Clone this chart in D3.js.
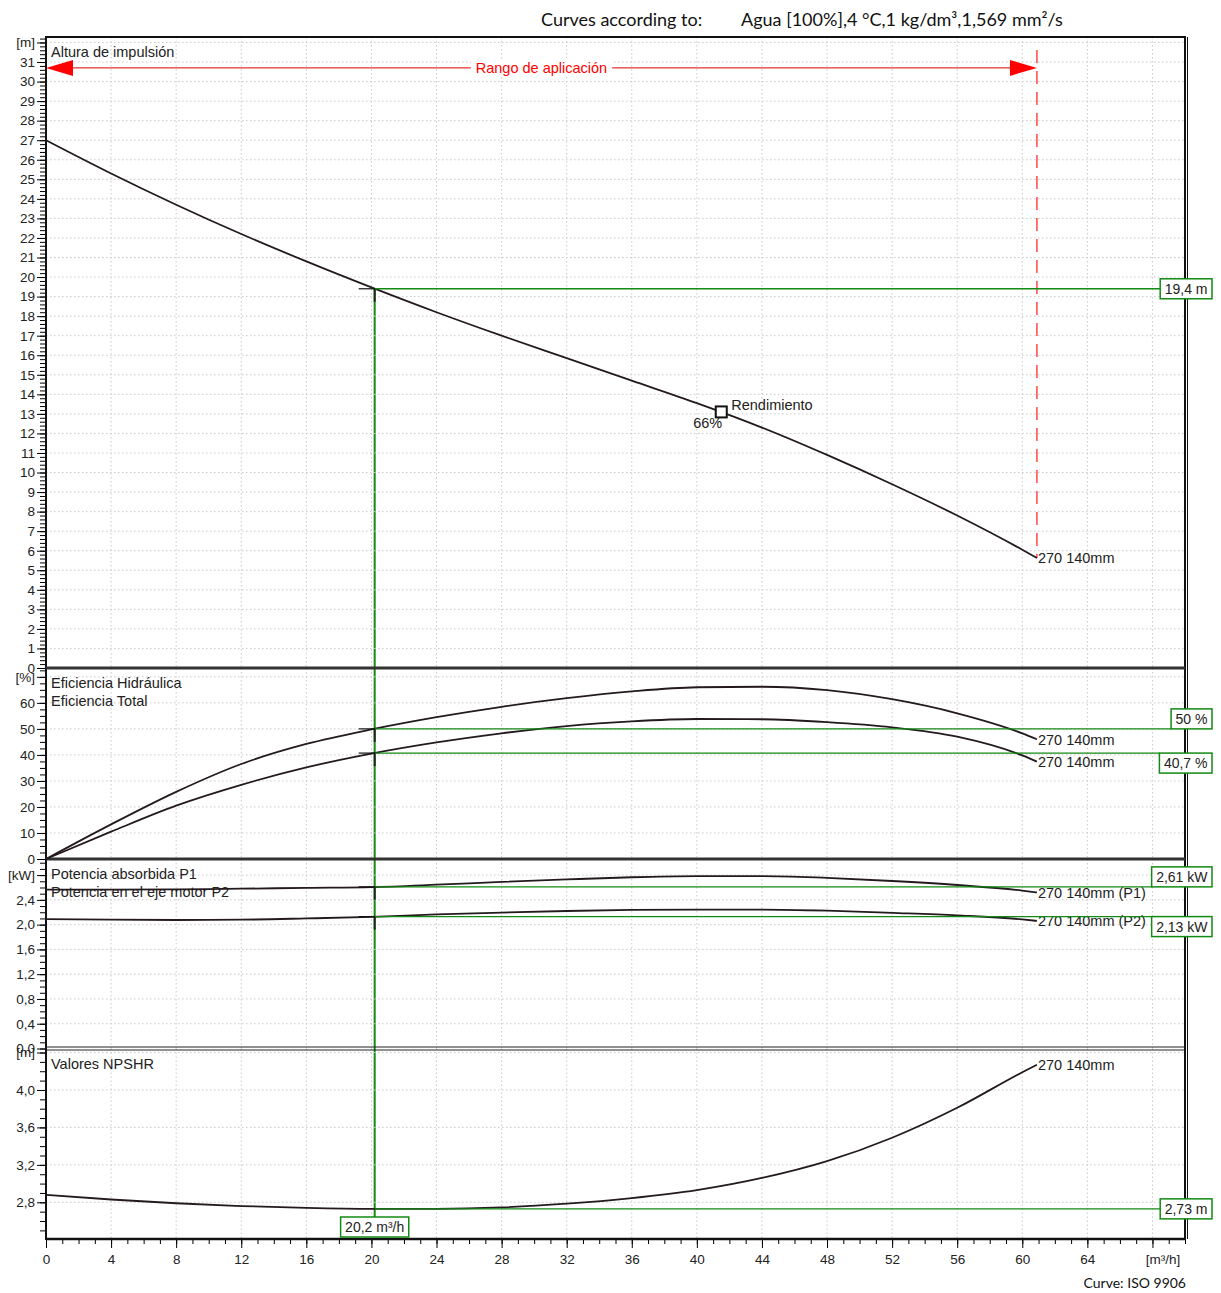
<!DOCTYPE html>
<html>
<head>
<meta charset="utf-8">
<script src="https://cdn.jsdelivr.net/npm/d3@7"></script>
<style>
  body { margin: 0; background: #fff; }
  svg { display: block; font-family: "Liberation Sans", Arial, sans-serif; }
</style>
</head>
<body>
<script>
const flowQ = [0, 4, 8, 12, 16, 20, 24, 28, 32, 36, 40, 44, 48, 52, 56, 60, 60.9];
const headH = [27.0, 25.3, 23.7, 22.2, 20.8, 19.47, 18.2, 17.0, 15.85, 14.7, 13.55, 12.3, 10.9, 9.4, 7.8, 6.05, 5.63];
const effHydraulic = [0, 13.3, 25.8, 36.5, 44.2, 49.8, 54.5, 58.5, 61.8, 64.4, 66.0, 66.2, 64.9, 61.4, 56.0, 48.3, 46];
const effTotal = [0, 10.5, 20.5, 28.5, 35.2, 40.5, 44.8, 48.3, 51.1, 52.9, 53.8, 53.7, 52.6, 50.6, 47.0, 39.8, 37.4];
const powerP1 = [2.565, 2.565, 2.57, 2.58, 2.595, 2.607, 2.645, 2.69, 2.73, 2.765, 2.783, 2.785, 2.755, 2.705, 2.64, 2.55, 2.52];
const powerP2 = [2.09, 2.08, 2.075, 2.08, 2.10, 2.125, 2.165, 2.195, 2.22, 2.237, 2.244, 2.244, 2.226, 2.19, 2.149, 2.085, 2.06];
const npshr = [2.88, 2.83, 2.79, 2.76, 2.74, 2.73, 2.73, 2.745, 2.785, 2.845, 2.93, 3.06, 3.24, 3.49, 3.81, 4.19, 4.27];

// duty point
const dutyQ = 20.2;
const dutyHead = 19.4;
const dutyEffHyd = 50;
const dutyEffTot = 40.7;
const dutyP1 = 2.61;
const dutyP2 = 2.13;
const dutyNpsh = 2.73;

// application range + best efficiency point
const rangeQ = [0, 60.9];
const rangeH = 30.7;
const bepQ = 41.5;
const bepH = 13.1;
const bepLabel = "66%";

const curveName = "270 140mm";

const W = 1221, H = 1293;
const left = 46, right = 1185;
const green = "#138a13";
const ink = "#241a1d";
const fs = 14.5;

const comma = (f) => (d) => d3.format(f)(d).replace(".", ",");
const range = (a, b, s) => d3.range(Math.round((b - a) / s) + 1).map((i) => +(a + i * s).toFixed(3));

const x = d3.scaleLinear().domain([0, 70]).range([left, right]);

const svg = d3.select("body").append("svg").attr("width", W).attr("height", H);

// panels, top to bottom
const panels = [
  { top: 37, bottom: 668, domain: [0, 32.28], majors: range(0, 32, 1), minors: range(0, 32.2, 0.2), fmt: d3.format("d"), unit: "[m]", titles: ["Altura de impulsión"] },
  { top: 668, bottom: 859, domain: [0, 73.4], majors: range(0, 70, 10), minors: range(0, 72.5, 2.5), fmt: d3.format("d"), unit: "[%]", titles: ["Eficiencia Hidráulica", "Eficiencia Total"] },
  { top: 859, bottom: 1048.5, domain: [0, 3.06], majors: range(0, 2.8, 0.4), minors: range(0, 3.0, 0.1), fmt: comma(".1f"), unit: "[kW]", titles: ["Potencia absorbida P1", "Potencia en el eje motor P2"] },
  { top: 1048.5, bottom: 1239, domain: [2.408, 4.443], majors: range(2.8, 4.4, 0.4), minors: range(2.5, 4.4, 0.1), fmt: comma(".1f"), unit: "[m]", titles: ["Valores NPSHR"] },
];
panels.forEach((p) => (p.y = d3.scaleLinear().domain(p.domain).range([p.bottom, p.top])));
const [pHead, pEff, pPow, pNpsh] = panels;

// grid
const grid = svg.append("g").attr("stroke", "#c9c9c9").attr("stroke-dasharray", "1.5,2.5");
panels.forEach((p) => {
  grid.append("g").selectAll("line").data(p.majors.filter((d) => d > p.domain[0])).join("line")
    .attr("x1", left).attr("x2", right).attr("y1", p.y).attr("y2", p.y);
  grid.append("g").selectAll("line").data(range(4, 68, 4)).join("line")
    .attr("x1", x).attr("x2", x).attr("y1", p.top).attr("y2", p.bottom);
});

// y axes
panels.forEach((p) => {
  svg.append("g").attr("transform", `translate(${left},0)`)
    .call(d3.axisLeft(p.y).tickValues(p.minors).tickSize(6).tickFormat(""))
    .call((g) => g.select(".domain").remove());
  svg.append("g").attr("transform", `translate(${left},0)`)
    .call(d3.axisLeft(p.y).tickValues(p.majors).tickSize(9).tickPadding(2)
      .tickFormat((d, i) => (i === p.majors.length - 1 ? p.unit : p.fmt(d))))
    .call((g) => g.select(".domain").remove())
    .call((g) => g.selectAll("text").attr("font-size", 13.5).attr("fill", "#222").attr("font-family", "Liberation Sans, Arial, sans-serif"));
  p.titles.forEach((t, i) => {
    svg.append("text").attr("x", left + 5).attr("y", p.top + 20 + i * 18)
      .attr("font-size", fs).attr("fill", "#222").text(t);
  });
});

// x axis
svg.append("g").attr("transform", `translate(0,${pNpsh.bottom})`)
  .call(d3.axisBottom(x).tickValues(range(0, 70, 1)).tickSize(5).tickFormat(""))
  .call((g) => g.select(".domain").remove());
svg.append("g").attr("transform", `translate(0,${pNpsh.bottom})`)
  .call(d3.axisBottom(x).tickValues(range(0, 68, 4)).tickSize(9).tickPadding(6)
    .tickFormat((d) => (d === 68 ? "[m³/h]" : d)))
  .call((g) => g.select(".domain").remove())
  .call((g) => g.selectAll("text").attr("font-size", 13.5).attr("fill", "#222").attr("font-family", "Liberation Sans, Arial, sans-serif"))
  .call((g) => g.selectAll(".tick").filter((d) => d === 68).select("text").attr("dx", 10));

// frame
const frame = svg.append("g").attr("fill", "none");
frame.append("rect").attr("x", left).attr("y", pHead.top).attr("width", right - left).attr("height", pNpsh.bottom - pHead.top)
  .attr("stroke", "#111").attr("stroke-width", 2);
frame.append("line").attr("x1", right + 2.5).attr("x2", right + 2.5).attr("y1", pHead.top).attr("y2", pNpsh.bottom)
  .attr("stroke", "#111").attr("stroke-width", 1);
[pEff.top, pPow.top].forEach((yy) =>
  frame.append("line").attr("x1", left).attr("x2", right).attr("y1", yy).attr("y2", yy).attr("stroke", "#333").attr("stroke-width", 3));
[pNpsh.top - 1.5, pNpsh.top + 1.5].forEach((yy) =>
  frame.append("line").attr("x1", left).attr("x2", right).attr("y1", yy).attr("y2", yy).attr("stroke", "#222").attr("stroke-width", 1.2));
frame.append("line").attr("x1", left).attr("x2", right).attr("y1", pNpsh.bottom).attr("y2", pNpsh.bottom).attr("stroke", "#111").attr("stroke-width", 2.5);

// application range (red)
const yR = pHead.y(rangeH);
const xR0 = x(rangeQ[0]), xR1 = x(rangeQ[1]);
const red = svg.append("g");
red.append("line").attr("x1", xR1).attr("x2", xR1).attr("y1", pHead.top + 13).attr("y2", pHead.y(headH[headH.length - 1]))
  .attr("stroke", "#ff1a1a").attr("stroke-width", 1.2).attr("stroke-dasharray", "13,8");
red.append("line").attr("x1", xR0 + 20).attr("x2", xR1 - 20).attr("y1", yR).attr("y2", yR).attr("stroke", "#e00000").attr("stroke-width", 1);
red.append("path").attr("fill", "#ff0000").attr("d", `M${xR0},${yR}L${xR0 + 27},${yR - 8}L${xR0 + 27},${yR + 8}Z`);
red.append("path").attr("fill", "#ff0000").attr("d", `M${xR1},${yR}L${xR1 - 27},${yR - 8}L${xR1 - 27},${yR + 8}Z`);
const rText = red.append("text").attr("x", (xR0 + xR1) / 2).attr("y", yR).attr("dy", "0.35em")
  .attr("text-anchor", "middle").attr("font-size", fs).attr("fill", "#ff0000").text("Rango de aplicación");
const rb = rText.node().getBBox();
red.insert("rect", "text").attr("x", rb.x - 5).attr("y", rb.y).attr("width", rb.width + 10).attr("height", rb.height).attr("fill", "#fff");

// curves
const series = [
  { p: pHead, values: headH, label: curveName },
  { p: pEff, values: effHydraulic, label: curveName },
  { p: pEff, values: effTotal, label: curveName },
  { p: pPow, values: powerP1, label: curveName + " (P1)" },
  { p: pPow, values: powerP2, label: curveName + " (P2)" },
  { p: pNpsh, values: npshr, label: curveName },
];
series.forEach((s) => {
  const line = d3.line().x((d, i) => x(flowQ[i])).y((d) => s.p.y(d)).curve(d3.curveMonotoneX);
  svg.append("path").attr("d", line(s.values)).attr("fill", "none").attr("stroke", ink).attr("stroke-width", 1.8);
  const last = s.values.length - 1;
  svg.append("text").attr("x", x(flowQ[last]) + 1).attr("y", s.p.y(s.values[last])).attr("dy", "0.38em")
    .attr("font-size", fs).attr("fill", "#222").text(s.label);
});

// best efficiency point
svg.append("rect").attr("x", x(bepQ) - 5.5).attr("y", pHead.y(bepH) - 5.5).attr("width", 11).attr("height", 11)
  .attr("fill", "#fff").attr("stroke", "#111").attr("stroke-width", 2);
svg.append("text").attr("x", x(bepQ) + 10).attr("y", pHead.y(bepH) - 7).attr("dy", "0.35em")
  .attr("font-size", fs).attr("fill", "#222").text("Rendimiento");
svg.append("text").attr("x", x(bepQ) + 1).attr("y", pHead.y(bepH) + 11).attr("dy", "0.35em").attr("text-anchor", "end")
  .attr("font-size", fs).attr("fill", "#222").text(bepLabel);

// duty point lines and value boxes
const xd = x(dutyQ);
const boxRight = 1212;
const duty = [
  { p: pHead, v: dutyHead, text: comma(".1f")(dutyHead) + " m", place: "mid" },
  { p: pEff, v: dutyEffHyd, text: dutyEffHyd + " %", place: "above" },
  { p: pEff, v: dutyEffTot, text: comma(".1f")(dutyEffTot) + " %", place: "below" },
  { p: pPow, v: dutyP1, text: comma(".2f")(dutyP1) + " kW", place: "above" },
  { p: pPow, v: dutyP2, text: comma(".2f")(dutyP2) + " kW", place: "below" },
  { p: pNpsh, v: dutyNpsh, text: comma(".2f")(dutyNpsh) + " m", place: "mid" },
];
const xBox = svg.append("g");
const xBoxText = xBox.append("text").attr("x", xd).attr("y", 1227).attr("dy", "0.35em").attr("text-anchor", "middle")
  .attr("font-size", 14).attr("fill", "#222").text(comma(".1f")(dutyQ) + " m³/h");
const xbw = xBoxText.node().getComputedTextLength() + 9;
xBox.insert("rect", "text").attr("x", xd - xbw / 2).attr("y", 1217).attr("width", xbw).attr("height", 20)
  .attr("fill", "#fff").attr("stroke", green).attr("stroke-width", 1.5);

svg.insert("line", "g").attr("x1", xd).attr("x2", xd).attr("y1", pHead.y(dutyHead)).attr("y2", 1217)
  .attr("stroke", green).attr("stroke-width", 2);

duty.forEach((d) => {
  const yy = d.p.y(d.v);
  const g = svg.append("g");
  const t = g.append("text").attr("font-size", 14).attr("fill", "#222").text(d.text);
  const w = t.node().getComputedTextLength() + 9;
  const by = d.place === "mid" ? yy - 10 : d.place === "above" ? yy - 20 : yy;
  t.attr("x", boxRight - w + 4.5).attr("y", by + 10).attr("dy", "0.36em");
  g.insert("line", "text").attr("x1", xd).attr("x2", boxRight - w).attr("y1", yy).attr("y2", yy)
    .attr("stroke", green).attr("stroke-width", 1.3);
  g.insert("rect", "text").attr("x", boxRight - w).attr("y", by).attr("width", w).attr("height", 20)
    .attr("fill", "#fff").attr("stroke", green).attr("stroke-width", 1.5);
  if (d.p !== pNpsh) {
    g.append("line").attr("x1", xd - 16).attr("x2", xd).attr("y1", yy).attr("y2", yy).attr("stroke", "#111").attr("stroke-width", 1.2);
    g.append("line").attr("x1", xd).attr("x2", xd).attr("y1", yy).attr("y2", yy + 13).attr("stroke", "#222").attr("stroke-width", 2);
  }
});

// header + footer
const hdrFont = "Lato, 'Open Sans', sans-serif";
svg.append("text").attr("x", 541).attr("y", 26).attr("font-family", hdrFont).attr("font-size", 18).attr("fill", "#111").text("Curves according to:");
svg.append("text").attr("x", 741).attr("y", 26).attr("font-family", hdrFont).attr("font-size", 18).attr("fill", "#111")
  .text("Agua [100%],4 °C,1 kg/dm³,1,569 mm²/s");
svg.append("text").attr("x", 1186).attr("y", 1288).attr("text-anchor", "end").attr("font-family", hdrFont)
  .attr("font-size", 14).attr("fill", "#111").text("Curve: ISO 9906");
</script>
</body>
</html>
